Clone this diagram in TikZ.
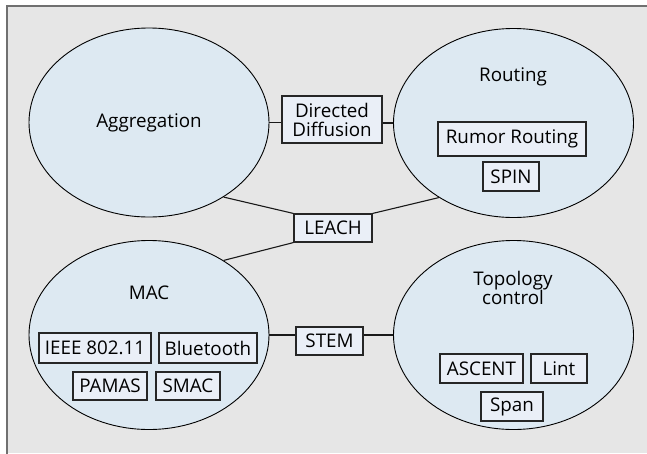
\documentclass[tikz,border=0pt]{standalone}
\usepackage{fontspec}
\setmainfont{Open Sans}
\usepackage{tikz}
\usetikzlibrary{shapes.geometric}
\definecolor{frameGray}{RGB}{112,112,112}
\definecolor{bgGray}{RGB}{230,230,230}
\definecolor{areaBlue}{RGB}{221,233,242}
\definecolor{protoBlue}{RGB}{234,239,247}
\tikzset{area/.style={ellipse,draw=black,fill=areaBlue,line width=0.9pt,minimum width=240pt,minimum height=189pt,inner sep=0}}
\tikzset{proto/.style={rectangle,draw=black!85,fill=protoBlue,line width=1.1pt,minimum height=29pt,inner xsep=5pt,inner ysep=2pt,align=center}}
\tikzset{link/.style={draw=black!90,line width=1.1pt}}

\begin{document}
\begin{tikzpicture}[x=1pt,y=-1pt,font=\fontsize{18.8}{19}\selectfont]

            \useasboundingbox (0,0) rectangle (647,453);
            \fill[bgGray] (7,6) rectangle (647,453);
            \draw[frameGray,line width=2pt] (7,470) -- (7,6) -- (670,6);

            \node[area] (Agg) at (149,122.5) {Aggregation};
            \node[area] (Rout) at (513.5,123) {};
            \node[area] (Mac) at (149,335) {};
            \node[area] (Topo) at (513.5,335) {};

            \node (RoutName) at (513,77) {Routing};
            \node (MacName) at (149,293) {MAC};
            \node[align=center,font=\fontsize{18.8}{19}\selectfont] (TopoName) at (513,288) {Topology\\control};

            \node[proto,minimum width=100pt,minimum height=47pt,inner ysep=0pt,font=\fontsize{18.8}{19}\selectfont] (DD) at (332,119.5) {Directed\\Diffusion};
            \node[proto,minimum width=148pt,minimum height=34pt] (RR) at (512,139) {Rumor Routing};
            \node[proto,minimum width=56pt] (SPIN) at (511,176.5) {SPIN};
            \node[proto,minimum width=78pt,minimum height=28pt] (LEACH) at (333,228) {LEACH};
            \node[proto,minimum width=112pt,minimum height=30pt] (IEEE) at (95,348) {IEEE 802.11};
            \node[proto,minimum width=98pt,minimum height=30pt] (BT) at (208,348) {Bluetooth};
            \node[proto,minimum width=74pt,minimum height=28pt] (PAMAS) at (110,386) {PAMAS};
            \node[proto,minimum width=64pt,minimum height=28pt] (SMAC) at (188,386) {SMAC};
            \node[proto,minimum width=67pt,minimum height=28pt] (STEM) at (329.5,341) {STEM};
            \node[proto,minimum width=83pt] (ASCENT) at (481.5,368.5) {ASCENT};
            \node[proto,minimum width=56pt] (Lint) at (559,368.5) {Lint};
            \node[proto,minimum width=62pt] (Span) at (512,406.5) {Span};

            \draw[link] (Agg.east) -- (Agg.east -| DD.west);
            \draw[link] (DD.east |- Rout.west) -- (Rout.west);
            \draw[link] (Agg.-45) -- (LEACH.north west);
            \draw[link] (Rout.-135) -- (LEACH.north east);
            \draw[link] (Mac.45) -- (LEACH.south west);
            \draw[link] (Mac.east) -- (Mac.east -| STEM.west);
            \draw[link] (STEM.east |- Topo.west) -- (Topo.west);

\end{tikzpicture}
\end{document}
